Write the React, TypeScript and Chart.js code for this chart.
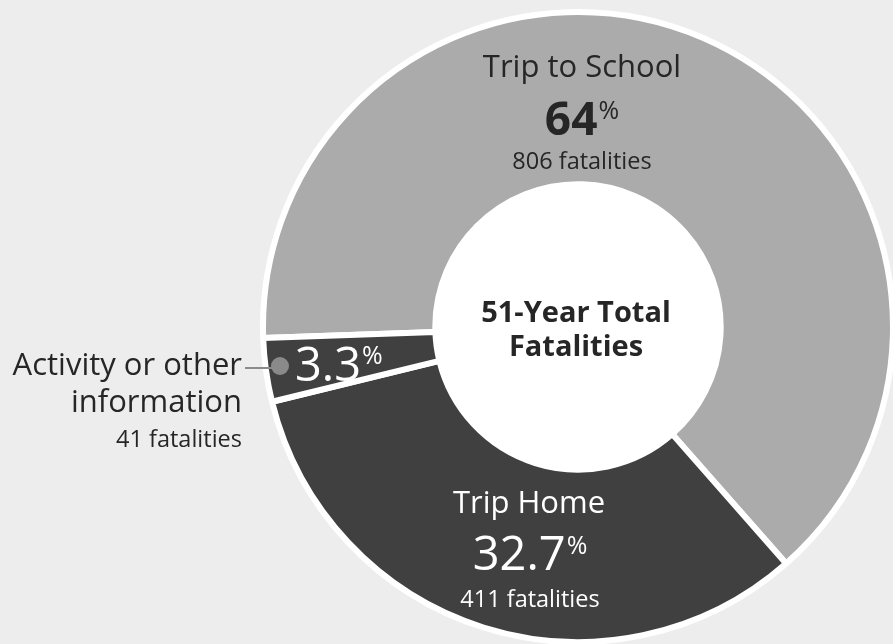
import React, { useEffect, useRef } from 'react';
import { Chart, registerables } from 'chart.js';

Chart.register(...registerables);

const categories = ['Trip to School', 'Trip Home', 'Activity or other information'];
const fatalities = [806, 411, 41];
const percentLabels = ['64', '32.7', '3.3'];
const centerTitle = ['51-Year Total', 'Fatalities'];
const sliceColors = ['#ababab', '#404040', '#404040'];

const FONT = "'Open Sans', sans-serif";
const DARK = '#262626';

function drawPct(ctx: CanvasRenderingContext2D, num: string, x: number, baseline: number, numFont: string, pctFont: string, color: string, align: 'center' | 'left', raise: number) {
  ctx.save();
  ctx.fillStyle = color;
  ctx.textAlign = 'left';
  ctx.textBaseline = 'alphabetic';
  ctx.font = numFont;
  const w1 = ctx.measureText(num).width;
  ctx.font = pctFont;
  const w2 = ctx.measureText('%').width;
  const gap = 1;
  const left = align === 'center' ? x - (w1 + gap + w2) / 2 : x;
  ctx.font = numFont;
  ctx.fillText(num, left, baseline);
  ctx.font = pctFont;
  ctx.fillText('%', left + w1 + gap, baseline - raise);
  ctx.restore();
}

function text(ctx: CanvasRenderingContext2D, s: string, x: number, y: number, font: string, color: string, align: CanvasTextAlign) {
  ctx.save();
  ctx.font = font;
  ctx.fillStyle = color;
  ctx.textAlign = align;
  ctx.textBaseline = 'alphabetic';
  ctx.fillText(s, x, y);
  ctx.restore();
}

const labelsPlugin = {
  id: 'doughnutLabels',
  beforeDatasetsDraw(chart: any) {
    const arc = chart.getDatasetMeta(0).data[0];
    if (!arc) return;
    const { x, y, innerRadius } = arc.getProps(['x', 'y', 'innerRadius'], true);
    const ctx = chart.ctx as CanvasRenderingContext2D;
    ctx.save();
    ctx.fillStyle = '#ffffff';
    ctx.beginPath();
    ctx.arc(x, y, innerRadius + 1, 0, Math.PI * 2);
    ctx.fill();
    ctx.restore();
  },
  afterDatasetsDraw(chart: any) {
    const arc = chart.getDatasetMeta(0).data[0];
    if (!arc) return;
    const { x: cx, y: cy } = arc.getProps(['x', 'y'], true);
    const ctx = chart.ctx as CanvasRenderingContext2D;

    // Trip to School
    text(ctx, categories[0], cx + 4, cy - 250, `31px ${FONT}`, DARK, 'center');
    drawPct(ctx, percentLabels[0], cx + 4, cy - 192, `bold 46px ${FONT}`, `25px ${FONT}`, DARK, 'center', 16);
    text(ctx, `${fatalities[0]} fatalities`, cx + 4, cy - 158, `23.5px ${FONT}`, DARK, 'center');

    // Center
    text(ctx, centerTitle[0], cx - 2, cy - 5, `bold 29px ${FONT}`, DARK, 'center');
    text(ctx, centerTitle[1], cx - 2, cy + 29, `bold 29px ${FONT}`, DARK, 'center');

    // Trip Home
    text(ctx, categories[1], cx - 49, cy + 186, `31px ${FONT}`, '#ffffff', 'center');
    drawPct(ctx, percentLabels[1], cx - 48, cy + 243, `47px ${FONT}`, `25px ${FONT}`, '#ffffff', 'center', 16);
    text(ctx, `${fatalities[1]} fatalities`, cx - 48, cy + 280, `23.5px ${FONT}`, '#ffffff', 'center');

    // Activity
    drawPct(ctx, percentLabels[2], cx - 283, cy + 54, `47px ${FONT}`, `25px ${FONT}`, '#ffffff', 'left', 17);
    ctx.save();
    ctx.strokeStyle = '#8a8a8a';
    ctx.lineWidth = 2;
    ctx.beginPath();
    ctx.moveTo(cx - 333, cy + 41);
    ctx.lineTo(cx - 300, cy + 41);
    ctx.stroke();
    ctx.fillStyle = '#8a8a8a';
    ctx.beginPath();
    ctx.arc(cx - 298, cy + 39, 9, 0, Math.PI * 2);
    ctx.fill();
    ctx.restore();
    text(ctx, 'Activity or other', cx - 336, cy + 48, `31px ${FONT}`, DARK, 'right');
    text(ctx, 'information', cx - 336, cy + 85, `31px ${FONT}`, DARK, 'right');
    text(ctx, `${fatalities[2]} fatalities`, cx - 336, cy + 120, `23.5px ${FONT}`, DARK, 'right');
  },
};

export default function App() {
  const canvasRef = useRef<HTMLCanvasElement | null>(null);

  useEffect(() => {
    if (!canvasRef.current) return;
    const chart = new Chart(canvasRef.current, {
      type: 'doughnut',
      data: {
        labels: categories,
        datasets: [
          {
            data: fatalities,
            backgroundColor: sliceColors,
            borderColor: '#ffffff',
            borderWidth: 6,
            hoverOffset: 0,
          },
        ],
      },
      options: {
        animation: false,
        responsive: true,
        maintainAspectRatio: false,
        rotation: 268,
        radius: 315,
        cutout: '45.3%',
        layout: { padding: { left: 263, top: 10, right: 0, bottom: 0 } },
        plugins: {
          legend: { display: false },
          tooltip: { enabled: false },
        },
        events: [],
      },
      plugins: [labelsPlugin],
    });
    return () => chart.destroy();
  }, []);

  return (
    <div style={{ position: 'fixed', left: 0, top: 0, width: 893, height: 644, background: '#ededed', overflow: 'hidden' }}>
      <canvas ref={canvasRef} />
    </div>
  );
}
